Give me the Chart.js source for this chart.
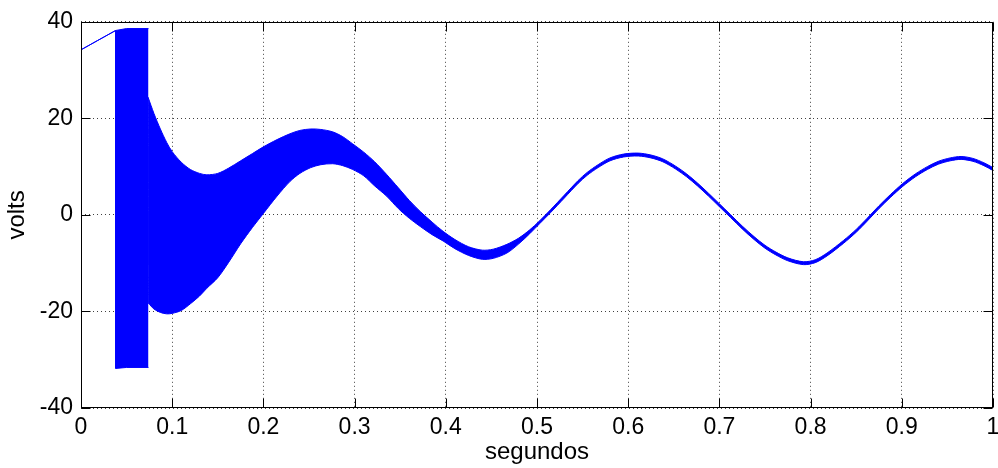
<!DOCTYPE html>
<html>
<head>
<meta charset="utf-8">
<script src="https://cdn.jsdelivr.net/npm/chart.js@4.4.1/dist/chart.umd.min.js"></script>
<style>
    html, body { margin: 0; padding: 0; background: #ffffff; }
    #wrap { width: 998px; height: 468px; }
</style>
</head>
<body>
<div id="wrap"><canvas id="voltsChart" width="998" height="468"></canvas></div>
<script>
// Start-up part: ramp, then the switching block (sharp edges, no smoothing)
const blockTimes = [0, 0.018, 0.038, 0.0381, 0.05, 0.074];
const blockUpper = [34.2, 36.1, 38.2, 38.2, 38.6, 38.6];
const blockLower = [34.2, 36.1, 38.2, -31.8, -31.6, -31.6];

// Rest of the signal: sample times (seconds)
const times = [
    0.0735, 0.08, 0.087, 0.094, 0.1, 0.11, 0.12, 0.13, 0.138, 0.15,
    0.162, 0.175, 0.188, 0.2, 0.215, 0.229, 0.24, 0.252, 0.263, 0.276,
    0.287, 0.298, 0.31, 0.322, 0.335, 0.348, 0.36, 0.372, 0.385, 0.397,
    0.41, 0.425, 0.44, 0.452, 0.467, 0.48, 0.492, 0.503, 0.515, 0.53,
    0.545, 0.555, 0.567, 0.58, 0.595, 0.611, 0.625, 0.638, 0.652, 0.664,
    0.676, 0.688, 0.7, 0.712, 0.725, 0.738, 0.75, 0.762, 0.775, 0.792,
    0.805, 0.818, 0.836, 0.85, 0.862, 0.875, 0.888, 0.901, 0.915, 0.928,
    0.94, 0.953, 0.965, 0.978, 0.99, 1
];

// Upper envelope (volts)
const upperVolts = [
    24.4, 21.0, 17.8, 15.0, 13.1, 10.9, 9.4, 8.6, 8.3, 8.6,
    9.7, 11.2, 12.7, 14.1, 15.6, 16.8, 17.5, 17.8, 17.7, 17.2,
    16.2, 14.7, 13.0, 11.0, 8.4, 5.6, 3.0, 0.7, -1.5, -3.4,
    -5.1, -6.6, -7.3, -7.1, -6.1, -4.8, -3.1, -1.2, 1.1, 4.1,
    7.1, 8.8, 10.4, 11.8, 12.6, 12.8, 12.4, 11.6, 10.1, 8.5,
    6.6, 4.5, 2.3, 0.1, -2.3, -4.5, -6.3, -7.7, -8.9, -9.7,
    -9.3, -7.9, -5.3, -3.0, -0.7, 1.9, 4.3, 6.5, 8.5, 10.0,
    11.1, 11.8, 12.1, 11.7, 10.8, 9.8
];

// Lower envelope (volts)
const lowerVolts = [
    -18.2, -19.5, -20.2, -20.5, -20.4, -19.8, -18.4, -16.8, -15.2, -13.0,
    -9.8, -6.0, -2.6, 0.3, 3.9, 6.9, 8.6, 9.8, 10.4, 10.6,
    10.2, 9.4, 8.1, 6.0, 3.9, 1.3, -0.7, -2.4, -4.1, -5.4,
    -7.0, -8.4, -9.2, -9.0, -7.9, -6.0, -3.9, -1.8, 0.5, 3.5,
    6.5, 8.2, 9.8, 11.2, 12.0, 12.2, 11.8, 11.0, 9.5, 7.9,
    6.0, 3.9, 1.7, -0.5, -2.9, -5.1, -6.9, -8.3, -9.5, -10.3,
    -9.9, -8.5, -5.9, -3.6, -1.3, 1.3, 3.7, 5.9, 7.9, 9.4,
    10.5, 11.2, 11.5, 11.1, 10.2, 9.2
];

// Axis ticks
const xTicks = [0, 0.1, 0.2, 0.3, 0.4, 0.5, 0.6, 0.7, 0.8, 0.9, 1];
const xTickLabels = ['0', '0.1', '0.2', '0.3', '0.4', '0.5', '0.6', '0.7', '0.8', '0.9', '1'];
const yTicks = [-40, -20, 0, 20, 40];
const yTickLabels = ['-40', '-20', '0', '20', '40'];

const blue = '#0000ff';
const fontFamily = "'Liberation Sans', Arial, sans-serif";

// Draws the full axes box and the inward tick marks (matlab style)
const boxPlugin = {
    id: 'box',
    afterDraw(chart) {
        const ctx = chart.ctx;
        const area = chart.chartArea;
        const xs = chart.scales.x;
        const ys = chart.scales.y;
        const tickLen = 9;
        const l = Math.round(area.left) + 0.5;
        const r = Math.round(area.right) - 0.5;
        const t = Math.round(area.top) + 0.5;
        const b = Math.round(area.bottom) - 0.5;

        ctx.save();
        ctx.strokeStyle = '#000000';
        ctx.lineWidth = 1;
        ctx.beginPath();
        xTicks.forEach(v => {
            const px = Math.round(xs.getPixelForValue(v)) + 0.5;
            ctx.moveTo(px, b);
            ctx.lineTo(px, b - tickLen);
            ctx.moveTo(px, t);
            ctx.lineTo(px, t + tickLen);
        });
        yTicks.forEach(v => {
            const py = Math.round(ys.getPixelForValue(v)) + 0.5;
            ctx.moveTo(l, py);
            ctx.lineTo(l + tickLen, py);
            ctx.moveTo(r, py);
            ctx.lineTo(r - tickLen, py);
        });
        ctx.stroke();
        ctx.strokeRect(l, t, r - l, b - t);
        ctx.restore();
    }
};

// One edge of the blue band
function edge(label, xs, ys, tension, fill) {
    return {
        label: label,
        data: xs.map((t, i) => ({ x: t, y: ys[i] })),
        borderColor: blue,
        backgroundColor: blue,
        borderWidth: 1,
        pointRadius: 0,
        tension: tension,
        fill: fill
    };
}

function renderVoltsChart() {
    const ctx = document.getElementById('voltsChart').getContext('2d');

    new Chart(ctx, {
        type: 'line',
        data: {
            datasets: [
                edge('block upper', blockTimes, blockUpper, 0, '+1'),
                edge('block lower', blockTimes, blockLower, 0, false),
                edge('upper', times, upperVolts, 0.3, '+1'),
                edge('lower', times, lowerVolts, 0.3, false)
            ]
        },
        options: {
            responsive: false,
            animation: false,
            events: [],
            layout: {
                padding: { top: 19, right: 5, left: 0, bottom: 0 }
            },
            plugins: {
                legend: { display: false },
                tooltip: { enabled: false }
            },
            scales: {
                x: {
                    type: 'linear',
                    min: 0,
                    max: 1,
                    afterBuildTicks: scale => {
                        scale.ticks = xTicks.map(v => ({ value: v }));
                    },
                    afterFit: scale => {
                        scale.height = 60;
                        scale.paddingLeft = 0;
                        scale.paddingRight = 0;
                    },
                    ticks: {
                        autoSkip: false,
                        maxRotation: 0,
                        padding: 6,
                        color: '#000000',
                        font: { family: fontFamily, size: 23 },
                        callback: (value, index) => xTickLabels[index]
                    },
                    grid: {
                        color: '#404040',
                        lineWidth: 1,
                        drawTicks: false
                    },
                    border: { display: false, dash: [1, 3] },
                    title: {
                        display: true,
                        text: 'segundos',
                        color: '#000000',
                        font: { family: fontFamily, size: 24 },
                        padding: { top: 0, bottom: 1 }
                    }
                },
                y: {
                    type: 'linear',
                    min: -40,
                    max: 40,
                    afterBuildTicks: scale => {
                        scale.ticks = yTicks.map(v => ({ value: v }));
                    },
                    afterFit: scale => {
                        scale.width = 81;
                    },
                    ticks: {
                        padding: 8,
                        color: '#000000',
                        font: { family: fontFamily, size: 23 },
                        callback: (value, index) => yTickLabels[index]
                    },
                    grid: {
                        color: '#404040',
                        lineWidth: 1,
                        drawTicks: false
                    },
                    border: { display: false, dash: [1, 3] },
                    title: {
                        display: true,
                        text: 'volts',
                        color: '#000000',
                        font: { family: fontFamily, size: 24 },
                        padding: { top: 3, bottom: 0 }
                    }
                }
            }
        },
        plugins: [boxPlugin]
    });
}

document.addEventListener('DOMContentLoaded', renderVoltsChart);
</script>
</body>
</html>
